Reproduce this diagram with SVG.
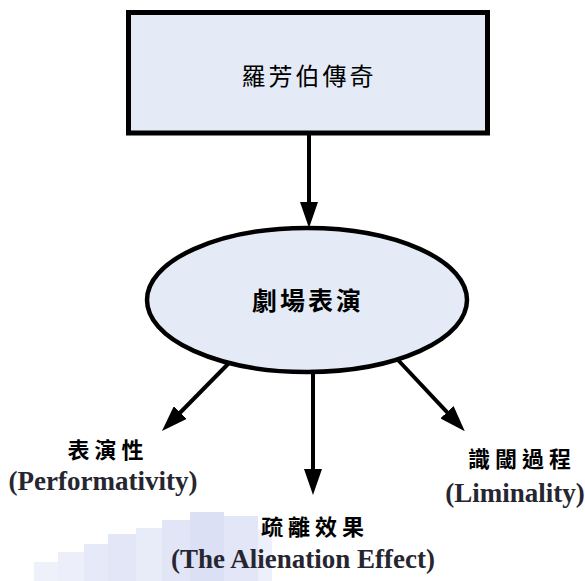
<svg xmlns="http://www.w3.org/2000/svg" width="585" height="581" viewBox="0 0 585 581">
  <style>
    .node { fill: #e5ebf6; stroke: #000; }
    .zh { font-family: "Noto Sans CJK TC", "Noto Sans CJK SC", sans-serif; fill: #000; text-anchor: middle; }
    .en { font-family: "Liberation Serif", "Times New Roman", serif; font-weight: bold; font-size: 27px; fill: #262630; text-anchor: middle; }
    .conn { stroke: #000; stroke-width: 4; fill: none; marker-end: url(#head); }
    .wm { fill: #c6ccef; }
  </style>
  <defs>
    <marker id="head" viewBox="0 0 26 18" refX="14" refY="9" markerWidth="26" markerHeight="18" markerUnits="userSpaceOnUse" orient="auto">
      <path d="M0,0 L26,9 L0,18 z" fill="#000"/>
    </marker>
  </defs>

  <!-- faint blocks behind the bottom labels -->
  <g id="backdrop" opacity="0.6">
    <rect class="wm" x="34" y="562" width="24" height="19" opacity="0.45"/>
    <rect class="wm" x="58" y="552" width="26" height="29" opacity="0.55"/>
    <rect class="wm" x="84" y="544" width="24" height="37" opacity="0.7"/>
    <rect class="wm" x="108" y="534" width="28" height="47" opacity="0.8"/>
    <rect class="wm" x="136" y="528" width="26" height="53" opacity="0.65"/>
    <rect class="wm" x="162" y="520" width="28" height="61" opacity="0.85"/>
    <rect class="wm" x="190" y="512" width="34" height="69"/>
    <rect class="wm" x="224" y="516" width="34" height="65" opacity="0.8"/>
    <rect class="wm" x="258" y="530" width="14" height="51" opacity="0.5"/>
  </g>

  <g id="source">
    <rect class="node" x="128.5" y="12.5" width="359" height="120.5" stroke-width="5"/>
    <text class="zh" x="309" y="85" font-size="24" letter-spacing="3">羅芳伯傳奇</text>
  </g>

  <g id="theatre">
    <ellipse class="node" cx="307" cy="300" rx="160" ry="72" stroke-width="4.5"/>
    <text class="zh" x="308" y="310" font-size="25" font-weight="bold" letter-spacing="3">劇場表演</text>
  </g>

  <g id="performativity">
    <text class="zh" x="108" y="458" font-size="22" font-weight="bold" letter-spacing="5">表演性</text>
    <text class="en" x="103" y="490">(Performativity)</text>
  </g>

  <g id="alienation">
    <text class="zh" x="315" y="535" font-size="22" font-weight="bold" letter-spacing="5">疏離效果</text>
    <text class="en" x="303" y="568">(The Alienation Effect)</text>
  </g>

  <g id="liminality">
    <text class="zh" x="522" y="467" font-size="22" font-weight="bold" letter-spacing="5">識閾過程</text>
    <text class="en" x="515" y="502">(Liminality)</text>
  </g>

  <g id="connectors">
    <line class="conn" x1="309" y1="135" x2="309" y2="216"/>
    <line class="conn" x1="229" y1="363" x2="170.4" y2="422.5"/>
    <line class="conn" x1="313" y1="372" x2="313" y2="483"/>
    <line class="conn" x1="398" y1="360" x2="456.6" y2="422.4"/>
  </g>
</svg>
